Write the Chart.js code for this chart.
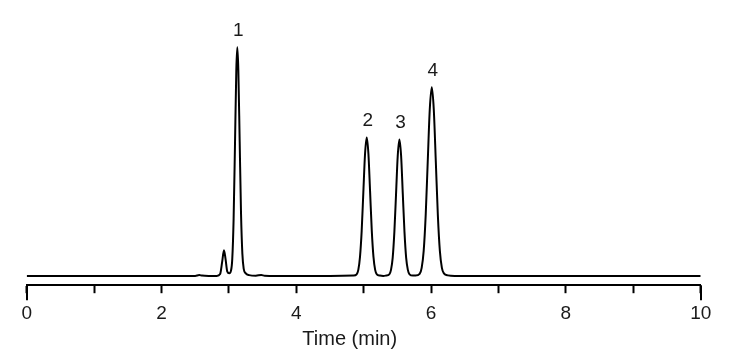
<!DOCTYPE html>
<html>
<head>
<meta charset="utf-8">
<script src="https://cdn.jsdelivr.net/npm/chart.js@4.4.1/dist/chart.umd.min.js"></script>
<style>
  html, body { margin: 0; padding: 0; background: #fff; }
  #wrap { width: 729px; height: 357px; position: relative; }
</style>
</head>
<body>
<div id="wrap"><canvas id="chromChart"></canvas></div>
<script>
// retention time (min) and detector signal (arbitrary units, baseline = 0)
const times = [
  0.00, 1.00, 2.00, 2.50, 2.56, 2.60, 2.70, 2.82,
  2.87, 2.90, 2.927, 2.95, 2.975, 3.005, 3.03, 3.05, 3.07, 3.09, 3.11, 3.125,
  3.14, 3.16, 3.18, 3.20, 3.22, 3.25, 3.30, 3.40, 3.48, 3.53, 3.70, 4.50,
  4.85, 4.895, 4.92, 4.945, 4.97, 4.995, 5.02, 5.045, 5.07, 5.095, 5.12, 5.145, 5.17, 5.195, 5.24, 5.29,
  5.33, 5.38, 5.405, 5.43, 5.455, 5.48, 5.505, 5.53, 5.555, 5.58, 5.605, 5.63, 5.655, 5.68, 5.73,
  5.77, 5.83, 5.86, 5.89, 5.92, 5.95, 5.98, 6.01, 6.04, 6.07, 6.10, 6.13, 6.16, 6.19, 6.25, 6.35,
  7.00, 8.00, 9.00, 10.00
];
const signal = [
  0, 0, 0, 0, 0.8, 0.3, 0, 0,
  1.9, 14, 25.7, 17, 4.5, 2.6, 5, 17, 57, 130, 206, 228.4,
  206, 134, 62, 22, 7, 2.5, 0.8, 0.2, 0.9, 0.2, 0, 0,
  0.3, 1.5, 6, 19, 45, 84, 122, 138.4, 122, 84, 45, 19, 6, 1.5, 0.3, 0,
  0.3, 1.5, 6, 18, 44, 82, 120, 136.4, 120, 82, 44, 18, 6, 1.5, 0.3,
  0.3, 2, 8, 25, 61, 114, 166, 188.4, 166, 114, 61, 25, 8, 2.5, 0.5, 0,
  0, 0, 0, 0
];

// peak annotations
const peakNames = ['1', '2', '3', '4'];
const peakTimes = [3.125, 5.045, 5.53, 6.01];
const peakHeights = [228.4, 138.4, 136.4, 188.4];

// x axis ticks
const tickValues = [0, 1, 2, 3, 4, 5, 6, 7, 8, 9, 10];
const tickLabels = ['0', '', '2', '', '4', '', '6', '', '8', '', '10'];
const axisTitle = 'Time (min)';

const FONT = '"Liberation Sans", Arial, sans-serif';
const TEXT = '#1a1a1a';

const annotatePlugin = {
    id: 'annotate',
    afterDraw(chart) {
        const ctx = chart.ctx;
        const xs = chart.scales.x;
        const ys = chart.scales.y;
        const area = chart.chartArea;
        ctx.save();
        ctx.fillStyle = TEXT;
        ctx.font = '19px ' + FONT;
        ctx.textAlign = 'center';
        ctx.textBaseline = 'alphabetic';
        peakNames.forEach((name, i) => {
            const px = xs.getPixelForValue(peakTimes[i]);
            const py = ys.getPixelForValue(peakHeights[i]);
            ctx.fillText(name, px + 1, py - 11.5);
        });

        // longer end ticks
        ctx.strokeStyle = '#000';
        ctx.lineWidth = 2;
        [xs.min, xs.max].forEach(v => {
            const px = Math.round(xs.getPixelForValue(v));
            ctx.beginPath();
            ctx.moveTo(px, area.bottom);
            ctx.lineTo(px, area.bottom + 15);
            ctx.stroke();
        });

        // axis title
        ctx.font = '20px ' + FONT;
        ctx.fillText(axisTitle, (area.left + area.right) / 2 - 14, 345);
        ctx.restore();
    }
};

const ctx = document.getElementById('chromChart');
new Chart(ctx, {
    type: 'line',
    data: {
        datasets: [{
            data: times.map((t, i) => ({ x: t, y: signal[i] })),
            borderColor: '#000',
            borderWidth: 2,
            pointRadius: 0,
            cubicInterpolationMode: 'monotone',
            fill: false
        }]
    },
    options: {
        responsive: true,
        maintainAspectRatio: false,
        animation: false,
        layout: {
            padding: { left: 26.7, right: 28.3, top: 10, bottom: 23 }
        },
        plugins: {
            legend: { display: false },
            tooltip: { enabled: false }
        },
        scales: {
            x: {
                type: 'linear',
                min: 0,
                max: 10,
                afterBuildTicks: axis => {
                    axis.ticks = tickValues.map(v => ({ value: v }));
                },
                ticks: {
                    autoSkip: false,
                    maxRotation: 0,
                    padding: 9,
                    color: TEXT,
                    font: { family: FONT, size: 19 },
                    callback: (v) => tickLabels[tickValues.indexOf(v)]
                },
                grid: {
                    drawOnChartArea: false,
                    drawTicks: true,
                    tickLength: 8,
                    tickWidth: 2,
                    tickColor: '#000'
                },
                border: { display: true, color: '#000', width: 2 }
            },
            y: {
                display: false,
                min: -9.3,
                max: 265.7
            }
        }
    },
    plugins: [annotatePlugin]
});
</script>
</body>
</html>
